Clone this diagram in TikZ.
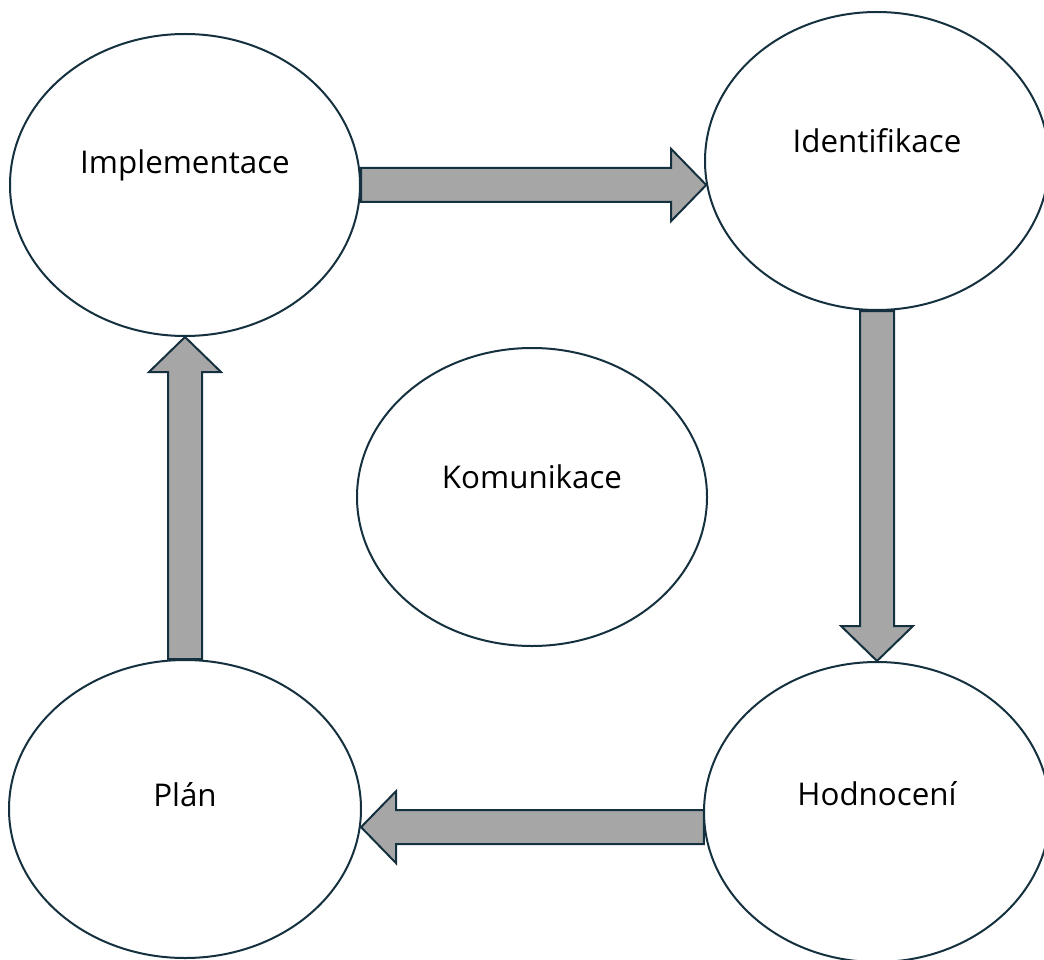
\documentclass[tikz,border=0pt]{standalone}
\usepackage{fontspec}
\setmainfont{Open Sans}
\usetikzlibrary{shapes.geometric,calc}
\definecolor{edgeblue}{HTML}{15303E}
\definecolor{shaftgray}{HTML}{A6A6A6}
\tikzset{
  stage/.style={draw=edgeblue, line width=1.5pt, fill=white, ellipse, inner sep=0pt},
  txt/.style={font=\fontsize{23.5}{28}\selectfont, text=black, yshift=15pt},
  block arrow/.style={draw=edgeblue, fill=shaftgray, line width=1.5pt, line join=miter},
}
\newcommand{\shaftw}{12.75pt}
\newcommand{\headw}{27pt}
\newcommand{\headlen}{26.25pt}
% outlined block arrow from #1 to #2
\newcommand{\blockarrow}[2]{%
  \coordinate (ba) at ($(#2)!\headlen!(#1)$);
  \draw[block arrow] ($(#1)!\shaftw!90:(#2)$) -- ($(ba)!\shaftw!90:(#2)$)
    -- ($(ba)!\headw!90:(#2)$) -- (#2) -- ($(ba)!\headw!-90:(#2)$)
    -- ($(ba)!\shaftw!-90:(#2)$) -- ($(#1)!\shaftw!-90:(#2)$) -- cycle;}

\begin{document}
\begin{tikzpicture}[x=0.75pt,y=-0.75pt]
  \useasboundingbox (0,0) rectangle (1044,959);

  \node [stage, minimum width=262.5pt, minimum height=226.5pt, label={[txt]center:Implementace}] (impl) at (185,185) {};
  \node [stage, minimum width=258pt, minimum height=223.5pt, label={[txt]center:Identifikace}] (ident) at (877,161) {};
  \node [stage, minimum width=262.5pt, minimum height=223.5pt, label={[txt]center:Komunikace}] (komun) at (532,497) {};
  \node [stage, minimum width=259.5pt, minimum height=225pt, label={[txt,yshift=-1.5pt]center:Hodnocení}] (hodn) at (877,812) {};
  \node [stage, minimum width=264pt, minimum height=223.5pt, label={[txt,yshift=-4pt]center:Plán}] (plan) at (185,809) {};

  \coordinate (a1) at (ident.188 |- impl.east);
  \coordinate (a3) at (plan.-5 |- hodn.185);

  \blockarrow{impl.east}{a1}
  \blockarrow{ident.south}{hodn.north}
  \blockarrow{hodn.185}{a3}
  \blockarrow{plan.north}{impl.south}
\end{tikzpicture}
\end{document}
